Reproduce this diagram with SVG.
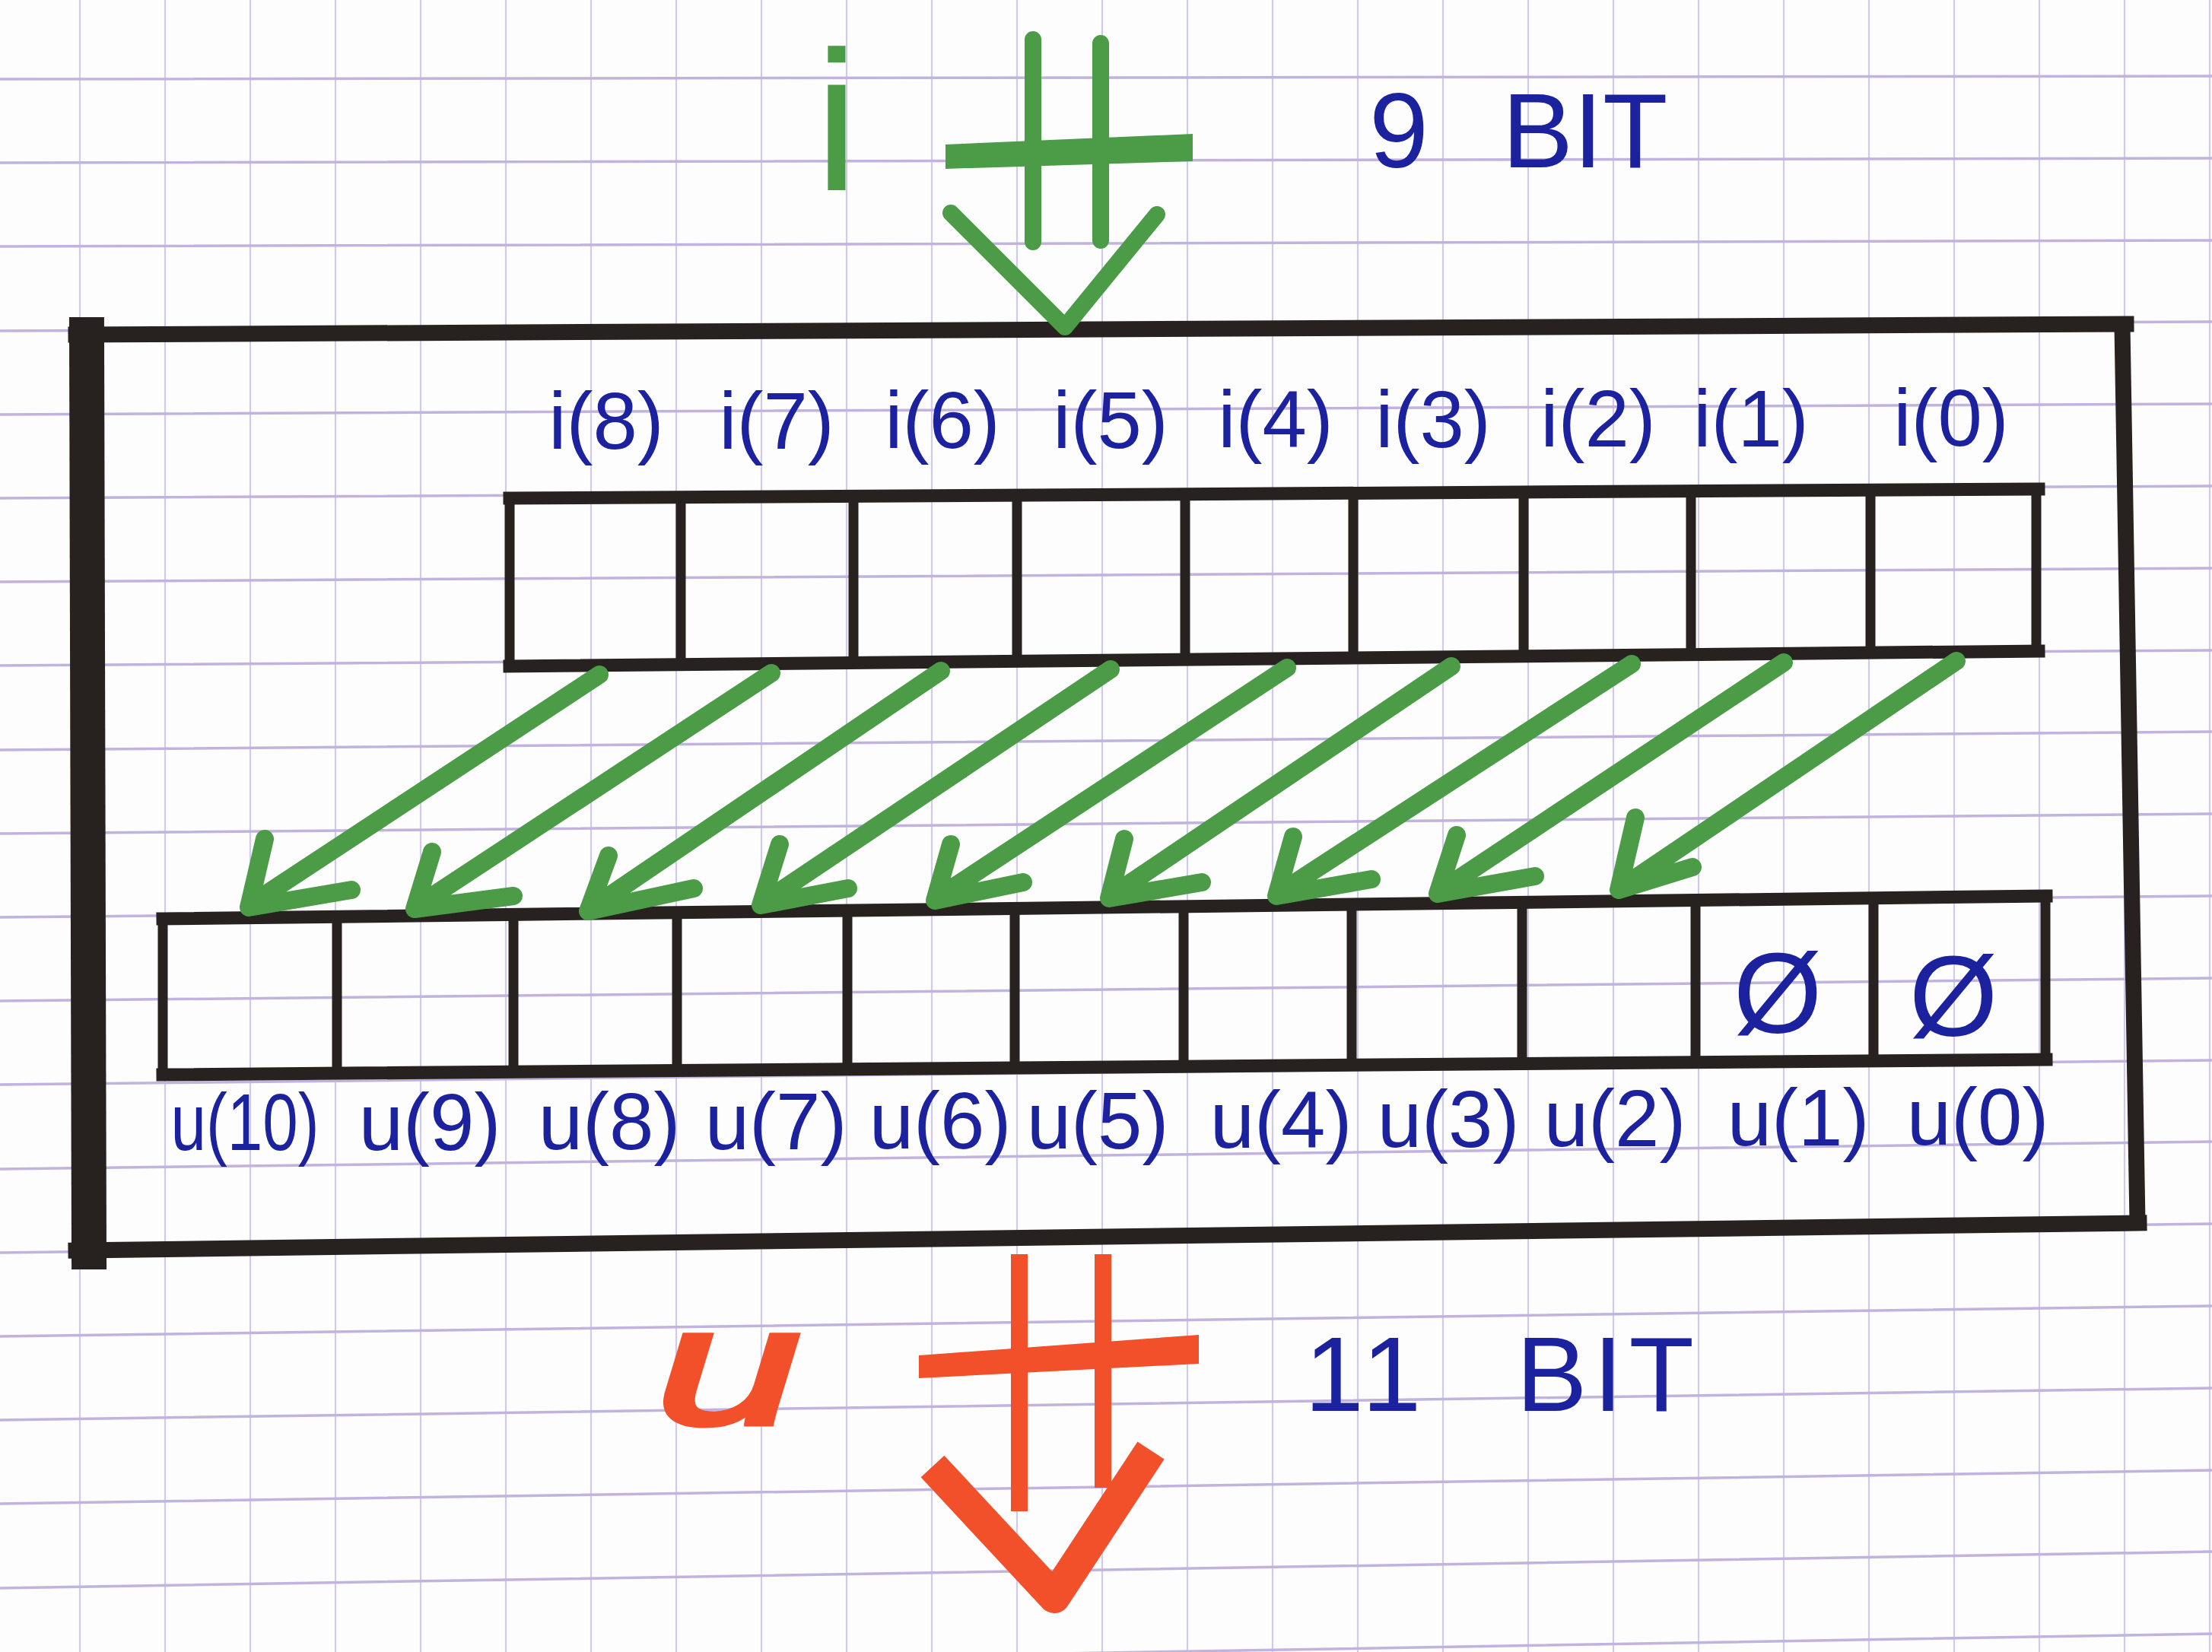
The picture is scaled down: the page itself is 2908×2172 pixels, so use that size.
<svg xmlns="http://www.w3.org/2000/svg" width="2908" height="2172" viewBox="0 0 2908 2172">
<style>
.hz{stroke:#c2b2de;stroke-width:3.5;fill:none}
.vt{stroke:#d0cbee;stroke-width:2.2;fill:none}
.ink{stroke:#27221f;fill:none;stroke-linecap:square}
.grn{stroke:#4b9b47;fill:none;stroke-linecap:round;stroke-linejoin:round}
.red{stroke:#f2502a;fill:none;stroke-linecap:butt;stroke-linejoin:round}
.lbl{font-family:"Liberation Sans",Arial,sans-serif;fill:#1c229e;text-anchor:middle}
.big{font-family:"Liberation Sans",Arial,sans-serif;fill:#1c229e;font-size:140px}
</style>
<rect width="2908" height="2172" fill="#fdfdfe"/>
<g id="paper">
<path class="vt" d="M105,0V2172M217,0V2172M329,0V2172M441,0V2172M553,0V2172M665,0V2172M777,0V2172M889,0V2172M1001,0V2172M1113,0V2172M1225,0V2172M1337,0V2172M1449,0V2172M1561,0V2172M1673,0V2172M1785,0V2172M1897,0V2172M2009,0V2172M2121,0V2172M2233,0V2172M2345,0V2172M2457,0V2172M2569,0V2172M2681,0V2172M2793,0V2172M2905,0V2172"/>
<path class="hz" d="M0,104L2908,100M0,214L2908,208M0,324L2908,316M0,435L2908,423M0,545L2908,531M0,655L2908,639M0,765L2908,747M0,875L2908,855M0,986L2908,962M0,1096L2908,1070M0,1206L2908,1178M0,1316L2908,1286M0,1426L2908,1394M0,1537L2908,1501M0,1647L2908,1609M0,1757L2908,1717M0,1867L2908,1825M0,1977L2908,1933M0,2088L2908,2040M0,2198L2908,2148"/>
</g>
<g id="block">
<path class="ink" stroke-width="21" d="M100,440L2795,426"/>
<path class="ink" stroke-width="21" d="M2790,428L2810,1607"/>
<path class="ink" stroke-width="21" d="M100,1644L2812,1608"/>
<path class="ink" stroke-width="46" d="M114,440L117,1646"/>
</g>
<g id="input-arrow">
<text x="1100" y="250" font-size="262" fill="#4b9b47" font-family="Liberation Sans,Arial,sans-serif" text-anchor="middle">i</text>
<path class="grn" stroke-width="22" d="M1358,52L1358,318M1447,57L1447,316"/>
<path fill="#4b9b47" d="M1243,190L1568,176L1568,212L1243,222Z"/>
<path class="grn" stroke-width="22" d="M1250,280L1400,430L1521,282"/>
<text class="big" x="1800" y="220" word-spacing="58">9 BIT</text>
</g>
<g id="reg-in">
<path class="ink" stroke-width="17" d="M670,655L2680,643M670,876L2680,856"/>
<path class="ink" stroke-width="13" d="M670,655L670,876M895,654L895,874M1122,652L1122,872M1337,651L1337,869M1558,650L1558,867M1779,648L1779,865M2003,647L2003,863M2223,646L2223,860M2459,644L2459,858M2677,643L2677,856"/>
<g id="in-labels" font-size="105">
<text class="lbl" x="797" y="590">i(8)</text>
<text class="lbl" x="1021" y="590">i(7)</text>
<text class="lbl" x="1239" y="589">i(6)</text>
<text class="lbl" x="1460" y="589">i(5)</text>
<text class="lbl" x="1677" y="588">i(4)</text>
<text class="lbl" x="1884" y="588">i(3)</text>
<text class="lbl" x="2101" y="587">i(2)</text>
<text class="lbl" x="2302" y="587">i(1)</text>
<text class="lbl" x="2565" y="586">i(0)</text>
</g>
</g>
<g id="reg-out">
<path class="ink" stroke-width="17" d="M214,1208L2690,1178M214,1413L2690,1393"/>
<path class="ink" stroke-width="13" d="M214,1208L214,1413M443,1205L443,1411M675,1202L675,1409M890,1200L890,1408M1114,1197L1114,1406M1334,1194L1334,1404M1556,1192L1556,1402M1777,1189L1777,1400M2001,1186L2001,1399M2229,1184L2229,1397M2463,1181L2463,1395M2689,1178L2689,1393"/>
<text class="lbl" x="2337" y="1358" font-size="150">Ø</text>
<text class="lbl" x="2568" y="1362" font-size="150">Ø</text>
<g id="out-labels" font-size="105">
<text class="lbl" x="322" y="1512" textLength="195" lengthAdjust="spacingAndGlyphs">u(10)</text>
<text class="lbl" x="565" y="1512">u(9)</text>
<text class="lbl" x="801" y="1511">u(8)</text>
<text class="lbl" x="1020" y="1511">u(7)</text>
<text class="lbl" x="1236" y="1510">u(6)</text>
<text class="lbl" x="1443" y="1510">u(5)</text>
<text class="lbl" x="1684" y="1509">u(4)</text>
<text class="lbl" x="1904" y="1508">u(3)</text>
<text class="lbl" x="2123" y="1507">u(2)</text>
<text class="lbl" x="2364" y="1506">u(1)</text>
<text class="lbl" x="2600" y="1505">u(0)</text>
</g>
</g>
<g id="connectors">
<g class="grn" stroke-width="24">
<path d="M788,887L340,1182M348,1103L327,1193L462,1170"/>
<path d="M1014,885L558,1185M568,1120L545,1195L675,1178"/>
<path d="M1237,882L786,1188M800,1125L773,1198L912,1168"/>
<path d="M1460,880L1013,1180M1025,1110L1000,1190L1115,1168"/>
<path d="M1692,878L1242,1174M1250,1110L1229,1184L1345,1160"/>
<path d="M1908,876L1471,1171M1478,1103L1458,1181L1580,1160"/>
<path d="M2145,873L1691,1168M1700,1100L1678,1178L1803,1156"/>
<path d="M2345,871L1903,1165M1915,1098L1890,1175L2018,1152"/>
<path d="M2572,869L2142,1160M2150,1075L2128,1170L2225,1140"/>
</g>
</g>
<g id="output-arrow">
<path class="red" stroke-width="22" d="M1340,1649L1340,1987M1450,1649L1450,1956"/>
<path fill="#f2502a" d="M1208,1782L1576,1755L1576,1793L1208,1812Z"/>
<path class="red" stroke-width="42" d="M1226,1928L1386,2100L1513,1907"/>
<text x="958" y="1872" font-size="220" font-style="italic" fill="#f2502a" stroke="#f2502a" stroke-width="7" font-family="Liberation Sans,Arial,sans-serif" text-anchor="middle" textLength="190" lengthAdjust="spacingAndGlyphs">u</text>
<text class="big" x="1715" y="1855" letter-spacing="8" word-spacing="70">11 BIT</text>
</g>
</svg>
